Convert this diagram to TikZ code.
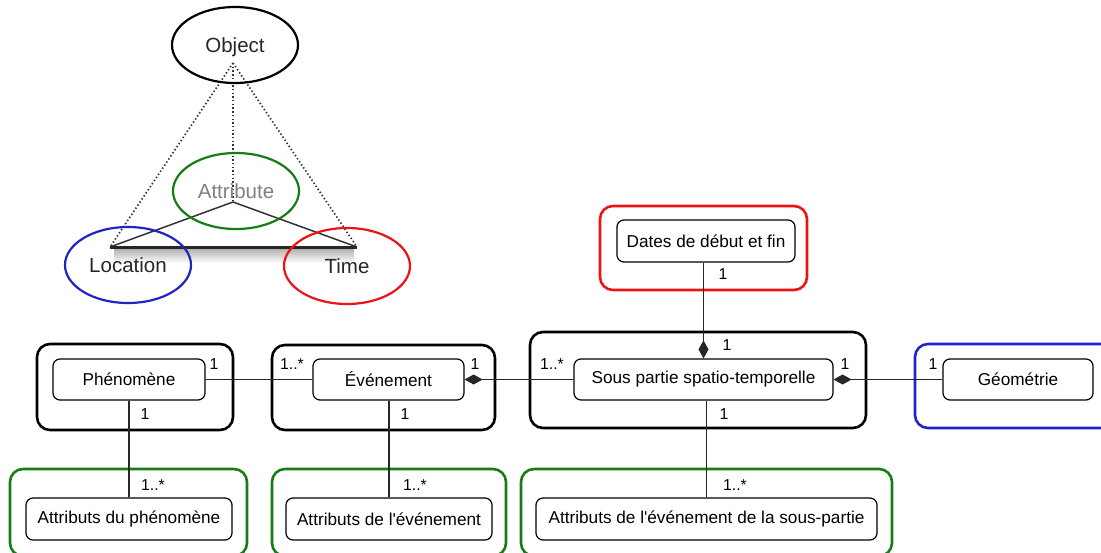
\documentclass[tikz,border=0pt]{standalone}
\usepackage{fontspec}
\setmainfont{Liberation Sans}
\usetikzlibrary{arrows.meta,shapes.geometric}
\definecolor{grpred}{RGB}{235,20,20}
\definecolor{grpgreen}{RGB}{20,125,20}
\definecolor{grpblue}{RGB}{35,35,195}

\begin{document}
\begin{tikzpicture}[x=1pt, y=-1pt, line width=1.2pt,
    cls/.style={draw, rounded corners=7pt, fill=white, inner sep=0pt, minimum height=41pt, font=\fontsize{17.2}{20}\selectfont},
    grp/.style={draw, rounded corners=13pt, line width=2.6pt, inner sep=0pt},
    mult/.style={inner sep=0pt, font=\fontsize{15.8}{18}\selectfont},
    ell/.style={draw, ellipse, line width=2.2pt, inner sep=0pt, minimum width=126pt, minimum height=76pt, font=\fontsize{20.5}{24}\selectfont, text=black!85},
    dots/.style={black!80, line width=1.7pt, dash pattern=on 1.4pt off 2.3pt},
    comp/.style={-{Diamond[length=18pt,width=10pt]}}]
    \useasboundingbox (0,0) rectangle (1101,552);
    \clip (0,0) rectangle (1101,552);

    % object / attribute / location / time
    \coordinate (tip) at (233,63);
    \coordinate (apex) at (233,202);
    \coordinate (baseL) at (110,247);
    \coordinate (baseR) at (357,247);
    \shade[top color=black!30, bottom color=white] (114,249) rectangle (354,263);
    \draw[dots] (tip) -- (baseL);
    \draw[dots] (tip) -- (apex);
    \draw[dots] (tip) -- (baseR);
    \draw[black!80, line width=1.5pt] (baseL) -- (apex) -- (baseR);
    \draw[black!85, line width=3pt] (baseL) -- (baseR);
    \node[ell, draw=black, text depth=-4pt] (obj) at (235,45) {Object};
    \node[ell, draw=grpgreen, text=black!50] (attr) at (236,191) {Attribute};
    \node[ell, draw=grpblue] (loc) at (128,265) {Location};
    \node[ell, draw=grpred] (time) at (347,266) {Time};

    % groupes
    \node[grp, minimum width=196pt, minimum height=86pt] (phenG) at (135,387) {};
    \node[grp, minimum width=223pt, minimum height=85pt] (evenG) at (383.5,387.5) {};
    \node[grp, minimum width=336pt, minimum height=96pt] (sousG) at (698,380) {};
    \node[grp, draw=grpred, minimum width=207pt, minimum height=84pt] (datesG) at (703.5,248) {};
    \node[grp, draw=grpblue, minimum width=200pt, minimum height=84pt] (geomG) at (1015,386) {};
    \node[grp, draw=grpgreen, minimum width=237pt, minimum height=87pt] (attPG) at (128.5,512.5) {};
    \node[grp, draw=grpgreen, minimum width=234pt, minimum height=87pt] (attEG) at (389,512.5) {};
    \node[grp, draw=grpgreen, minimum width=371pt, minimum height=87pt] (attSG) at (706.5,512.5) {};

    % classes
    \node[cls, minimum width=152pt] (phen) at (129,379.5) {Phénomène};
    \node[cls, minimum width=151pt] (even) at (388.5,379.5) {Événement};
    \node[cls, minimum width=259pt] (sous) at (703.5,379.5) {Sous partie spatio-temporelle};
    \node[cls, minimum width=178pt, minimum height=42pt] (dates) at (706,241) {Dates de début et fin};
    \node[cls, minimum width=150pt] (geom) at (1018,379.5) {Géométrie};
    \node[cls, minimum width=206pt, minimum height=42pt] (attP) at (129,519) {Attributs du phénomène};
    \node[cls, minimum width=206pt, minimum height=42pt] (attE) at (389,519) {Attributs de l\textquotesingle événement};
    \node[cls, minimum width=341pt, minimum height=42pt] (attS) at (706.5,519) {Attributs de l\textquotesingle événement de la sous-partie};

    % liens
    \draw[black!85] (phen) -- (even);
    \draw[black!85, comp] (sous) -- (even);
    \draw[black!85, comp] (geom) -- (sous);
    \draw[black!85, comp] (dates.south -| sous.north) -- (sous.north);
    \draw[black!85] (phen.south -| attP.north) -- (attP.north);
    \draw[black!85] (even.south -| attE.north) -- (attE.north);
    \draw[black!85] (sous.south -| attS.north) -- (attS.north);

    % multiplicites
    \node[mult] (m1) at (214,364) {1};
    \node[mult] (m2) at (145,414) {1};
    \node[mult] (m3) at (292,364) {1..*};
    \node[mult] (m4) at (475,364) {1};
    \node[mult] (m5) at (405,414) {1};
    \node[mult] (m6) at (552,364) {1..*};
    \node[mult] (m7) at (845,364) {1};
    \node[mult] (m8) at (727,345) {1};
    \node[mult] (m9) at (724,414) {1};
    \node[mult] (m10) at (723,274) {1};
    \node[mult] (m11) at (933,364) {1};
    \node[mult] (m12) at (153,485) {1..*};
    \node[mult] (m13) at (415,485) {1..*};
    \node[mult] (m14) at (735,485) {1..*};
\end{tikzpicture}
\end{document}
